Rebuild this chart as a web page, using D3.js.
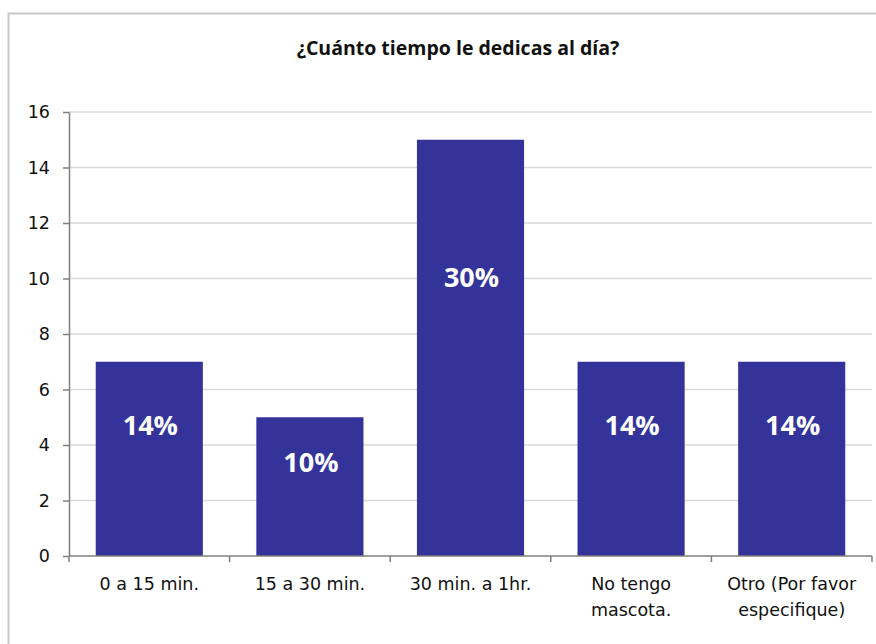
<!DOCTYPE html>
<html>
<head>
  <meta charset="utf-8">
  <script src="https://cdnjs.cloudflare.com/ajax/libs/d3/7.8.5/d3.min.js"></script>
  <title>¿Cuánto tiempo le dedicas al día?</title>
  <style>
    body { margin: 0; background: #fff; }
    .tick text { font-family: "DejaVu Sans", sans-serif; fill: #111; }
  </style>
</head>
<body>
<script>
  // data
  const categories = ["0 a 15 min.", "15 a 30 min.", "30 min. a 1hr.", "No tengo\nmascota.", "Otro (Por favor\nespecifique)"];
  const counts = [7, 5, 15, 7, 7];
  const percentLabels = ["14%", "10%", "30%", "14%", "14%"];
  const yTicks = [0, 2, 4, 6, 8, 10, 12, 14, 16];
  const title = "¿Cuánto tiempo le dedicas al día?";

  const w = 876;
  const h = 644;
  const padL = 69, padR = 872, padT = 112, padB = 556;

  const svg = d3.select("body").append("svg")
    .attr("width", w)
    .attr("height", h);

  // chart frame (right and bottom edges fall outside the picture)
  svg.append("path")
    .attr("d", "M8.5," + h + " V13.5 H" + w)
    .attr("fill", "none")
    .attr("stroke", "#c8c8c8")
    .attr("stroke-width", 2);

  svg.append("text")
    .attr("x", 458)
    .attr("y", 55)
    .attr("text-anchor", "middle")
    .style("font-family", "'Open Sans', sans-serif")
    .style("font-weight", "bold")
    .style("font-size", "19.5px")
    .attr("fill", "#111")
    .text(title);

  const xScale = d3.scaleBand()
    .domain(categories)
    .range([padL, padR])
    .paddingInner(0.333)
    .paddingOuter(0.1665);

  const yScale = d3.scaleLinear()
    .domain([0, 16])
    .range([padB, padT]);

  // gridlines
  svg.append("g")
    .selectAll("line")
    .data(yTicks.filter(d => d > 0))
    .enter()
    .append("line")
    .attr("x1", padL)
    .attr("x2", padR)
    .attr("y1", d => yScale(d))
    .attr("y2", d => yScale(d))
    .attr("stroke", "#d9d9d9")
    .attr("stroke-width", 1.5);

  svg.selectAll("rect.bar")
    .data(counts)
    .enter()
    .append("rect")
    .attr("class", "bar")
    .attr("x", (d, i) => xScale(categories[i]))
    .attr("y", d => yScale(d))
    .attr("width", xScale.bandwidth())
    .attr("height", d => yScale(0) - yScale(d))
    .attr("fill", "#333399");

  svg.selectAll("text.pct")
    .data(counts)
    .enter()
    .append("text")
    .attr("class", "pct")
    .attr("x", (d, i) => xScale(categories[i]) + xScale.bandwidth() / 2 + 1)
    .attr("y", d => yScale(d * 0.67))
    .attr("dy", "0.35em")
    .attr("text-anchor", "middle")
    .style("font-family", "'Open Sans', sans-serif")
    .style("font-weight", "bold")
    .style("font-size", "27px")
    .attr("fill", "#fff")
    .text((d, i) => percentLabels[i]);

  // y axis
  const yAxis = d3.axisLeft(yScale).tickValues(yTicks).tickSize(6).tickSizeOuter(0).tickPadding(13);
  const gy = svg.append("g")
    .attr("transform", "translate(" + padL + ",0)")
    .call(yAxis);
  gy.selectAll("text").style("font-size", "17.5px");
  gy.selectAll("line, path").attr("stroke", "#7f7f7f").attr("stroke-width", 1.5);

  // x axis: line along 0 with ticks on category boundaries
  const step = xScale.step();
  const bounds = categories.map(c => xScale(c) - step * xScale.paddingInner() / 2);
  bounds.push(bounds[bounds.length - 1] + step);
  const gx = svg.append("g");
  gx.append("line")
    .attr("x1", padL).attr("x2", padR)
    .attr("y1", padB).attr("y2", padB)
    .attr("stroke", "#7f7f7f").attr("stroke-width", 1.5);
  gx.selectAll("line.tk")
    .data(bounds)
    .enter()
    .append("line")
    .attr("class", "tk")
    .attr("x1", d => d).attr("x2", d => d)
    .attr("y1", padB).attr("y2", padB + 6)
    .attr("stroke", "#7f7f7f").attr("stroke-width", 1.5);

  const labels = gx.selectAll("text")
    .data(categories)
    .enter()
    .append("text")
    .attr("x", d => xScale(d) + xScale.bandwidth() / 2)
    .attr("y", padB + 34)
    .attr("text-anchor", "middle")
    .style("font-family", "'DejaVu Sans', sans-serif")
    .style("font-size", "17.5px")
    .attr("fill", "#111");
  labels.each(function (d) {
    const t = d3.select(this);
    d.split("\n").forEach((line, k) => {
      t.append("tspan")
        .attr("x", t.attr("x"))
        .attr("dy", k === 0 ? 0 : 26)
        .text(line);
    });
  });
</script>
</body>
</html>
